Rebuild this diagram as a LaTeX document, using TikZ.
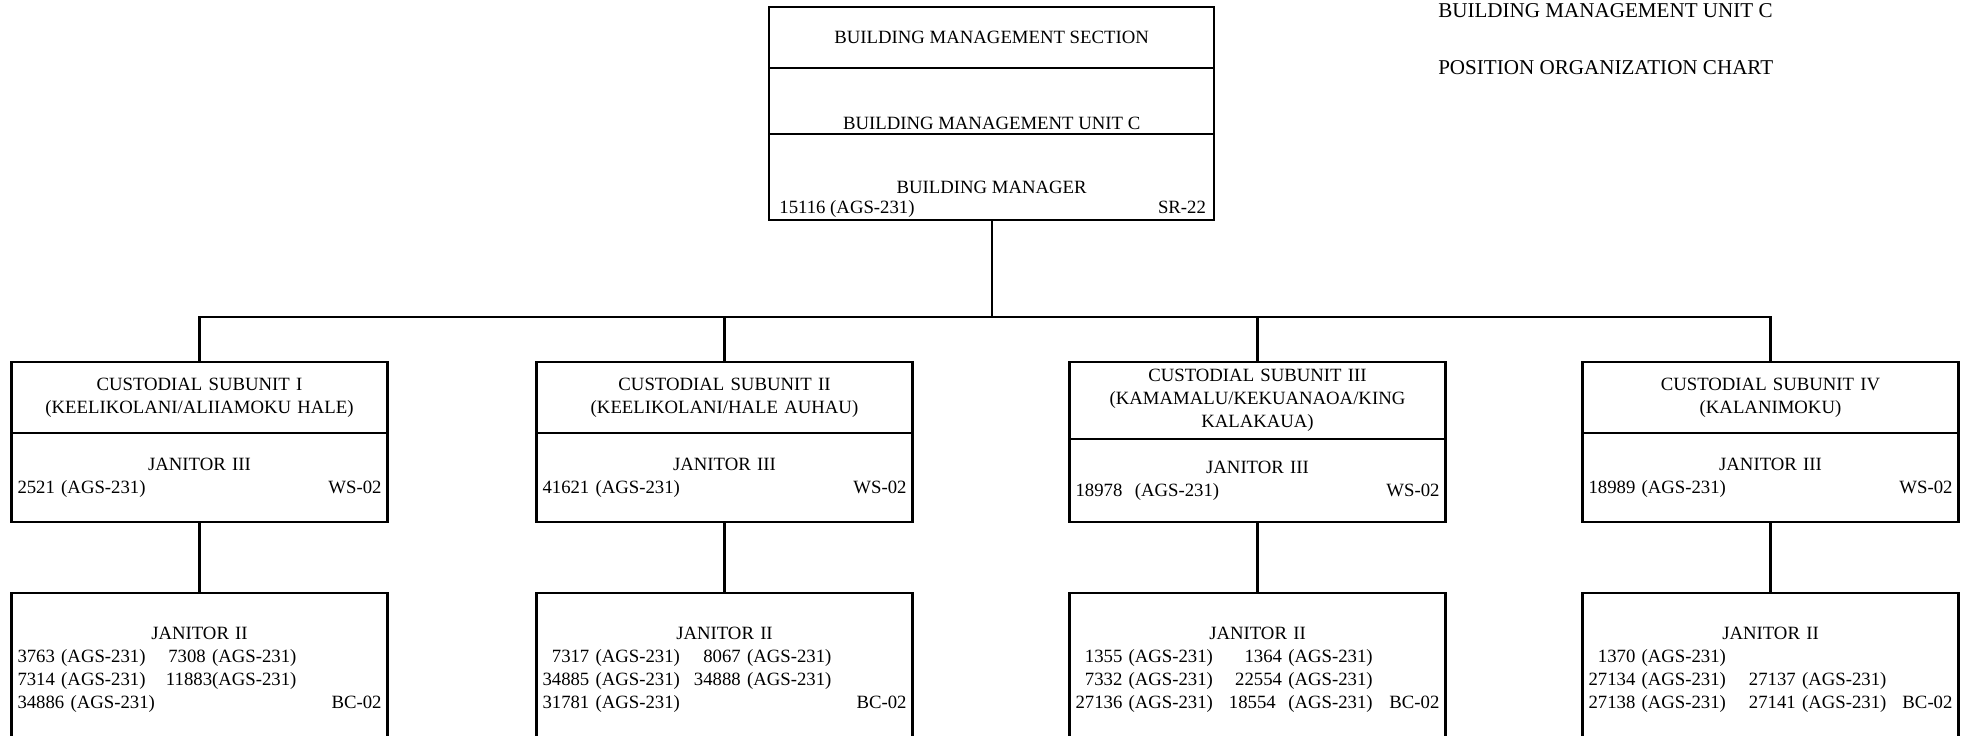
\documentclass[tikz,border=0pt]{standalone}
\usepackage{fontspec}
\setmainfont{Liberation Serif}
\usepackage{tikz}
\usetikzlibrary{positioning}
\tikzset{
  every node/.style={font=\fontsize{16}{19.5}\selectfont},
  secbox/.style={draw,line width=1.8pt,outer sep=0pt,inner sep=0pt,minimum width=13.35cm},
  unitbox/.style={draw,line width=1.8pt,outer sep=0pt,inner xsep=0.18cm,inner ysep=0.1cm,
    text width=10.92cm,align=center},
  txt/.style={inner sep=0pt},
  charttitle/.style={inner sep=0pt,font=\fontsize{18}{22}\selectfont},
  conn/.style={line width=1.8pt},
}

\begin{document}
\begin{tikzpicture}
  \useasboundingbox (0,0) rectangle (59.01,-22.05);
  \clip (0,0) rectangle (59.01,-22.05);
  % chart title
  \node[charttitle,anchor=base west] (ttl1) at (43.14,-0.51) {BUILDING MANAGEMENT UNIT C};
  \node[charttitle,anchor=base west] (ttl2) at (43.14,-2.22) {POSITION ORGANIZATION CHART};
  % section / unit / manager
  \node[secbox,minimum height=1.83cm] (sec) at (29.75,-1.125) {BUILDING MANAGEMENT SECTION};
  \node[secbox,minimum height=1.98cm,below=0pt of sec] (unit) {};
  \node[secbox,minimum height=2.58cm,below=0pt of unit] (mgr) {};
  \node[txt,anchor=base] (unitname) at ([yshift=0.15cm]unit.south) {BUILDING MANAGEMENT UNIT C};
  \node[txt,anchor=base] (mgrname) at ([yshift=0.81cm]mgr.south) {BUILDING MANAGER};
  \node[txt,anchor=base west] (mgrno) at ([xshift=0.3cm,yshift=0.21cm]mgr.south west) {15116 (AGS-231)};
  \node[txt,anchor=base east] (mgrsr) at ([xshift=-0.24cm,yshift=0.21cm]mgr.south east) {SR-22};
  % custodial subunits
  \node[unitbox,minimum height=2.13cm,anchor=north] (sub1) at (5.985,-10.86)
    {CUSTODIAL SUBUNIT I\\(KEELIKOLANI/ALIIAMOKU HALE)};
  \node[unitbox,minimum height=2.13cm,anchor=north] (sub2) at (21.735,-10.86)
    {CUSTODIAL SUBUNIT II\\(KEELIKOLANI/HALE AUHAU)};
  \node[unitbox,minimum height=2.31cm,anchor=north] (sub3) at (37.725,-10.86)
    {CUSTODIAL SUBUNIT III\\(KAMAMALU/KEKUANAOA/KING\\KALAKAUA)};
  \node[unitbox,minimum height=2.13cm,anchor=north] (sub4) at (53.115,-10.86)
    {CUSTODIAL SUBUNIT IV\\(KALANIMOKU)};
  % janitor III
  \node[unitbox,minimum height=2.67cm,below=0pt of sub1] (jan1)
    {JANITOR III\\\makebox[\hsize]{2521 (AGS-231)\hfill WS-02}};
  \node[unitbox,minimum height=2.67cm,below=0pt of sub2] (jan2)
    {JANITOR III\\\makebox[\hsize]{41621 (AGS-231)\hfill WS-02}};
  \node[unitbox,minimum height=2.49cm,below=0pt of sub3] (jan3)
    {JANITOR III\\\makebox[\hsize]{18978~~(AGS-231)\hfill WS-02}};
  \node[unitbox,minimum height=2.67cm,below=0pt of sub4] (jan4)
    {JANITOR III\\\makebox[\hsize]{18989 (AGS-231)\hfill WS-02}};
  % janitor II
  \node[unitbox,minimum height=4.68cm,below=2.13cm of jan1] (crew1) {JANITOR II\\
    \begin{tabular*}{\hsize}[t]{@{}l@{\hspace{0.33cm}}r@{\extracolsep{\fill}}r@{}}
      3763 (AGS-231) & 7308 (AGS-231) & \\
      7314 (AGS-231) & 11883(AGS-231) & \\
      34886 (AGS-231) & & BC-02
    \end{tabular*}};
  \node[unitbox,minimum height=4.68cm,below=2.13cm of jan2] (crew2) {JANITOR II\\
    \begin{tabular*}{\hsize}[t]{@{}r@{\hspace{0.42cm}}r@{\extracolsep{\fill}}r@{}}
      7317 (AGS-231) & 8067 (AGS-231) & \\
      34885 (AGS-231) & 34888 (AGS-231) & \\
      31781 (AGS-231) & & BC-02
    \end{tabular*}};
  \node[unitbox,minimum height=4.68cm,below=2.13cm of jan3] (crew3) {JANITOR II\\
    \begin{tabular*}{\hsize}[t]{@{}r@{\hspace{0.48cm}}r@{\extracolsep{\fill}}r@{}}
      1355 (AGS-231) & 1364 (AGS-231) & \\
      7332 (AGS-231) & 22554 (AGS-231) & \\
      27136 (AGS-231) & 18554~~(AGS-231) & BC-02
    \end{tabular*}};
  \node[unitbox,minimum height=4.68cm,below=2.13cm of jan4] (crew4) {JANITOR II\\
    \begin{tabular*}{\hsize}[t]{@{}r@{\hspace{0.69cm}}r@{\extracolsep{\fill}}r@{}}
      1370 (AGS-231) & & \\
      27134 (AGS-231) & 27137 (AGS-231) & \\
      27138 (AGS-231) & 27141 (AGS-231) & BC-02
    \end{tabular*}};
  % connectors
  \draw[conn] (mgr.south) -- ++(0,-2.91) coordinate (bus);
  \foreach \i in {1,...,4} {
    \draw[conn] (bus) -| (sub\i.north);
    \draw[conn] (jan\i.south) -- (crew\i.north);
  }
\end{tikzpicture}
\end{document}
